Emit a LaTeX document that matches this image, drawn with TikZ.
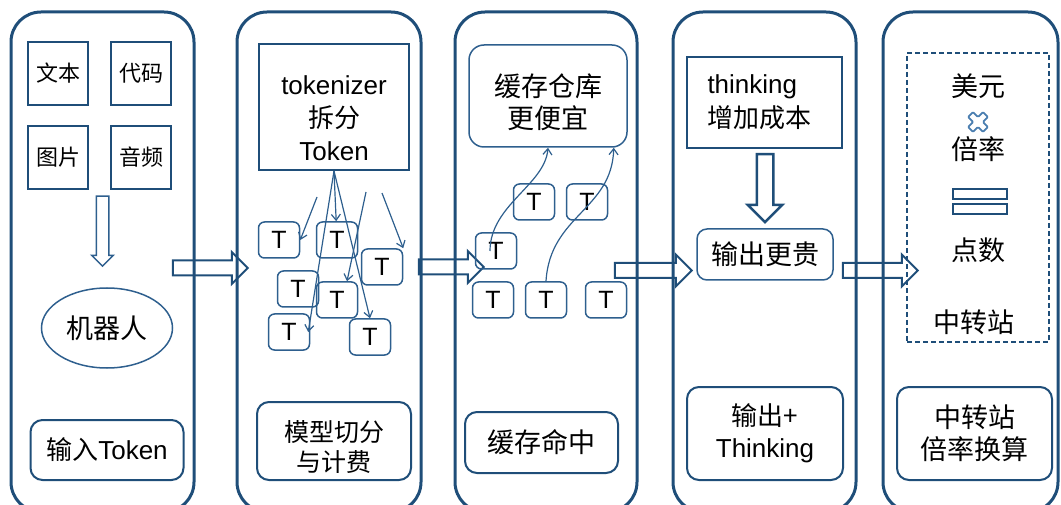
\documentclass[tikz,border=0pt]{standalone}
\usepackage{fontspec}
\setmainfont{Liberation Sans}
\newfontfamily\cjk{Noto Sans CJK SC}
\usepackage{tikz}
\usetikzlibrary{arrows.meta, positioning, shapes.geometric, shapes.arrows}

\definecolor{navy}{HTML}{1F4E79}
\definecolor{steel}{HTML}{2E5F8E}
\definecolor{crossblue}{HTML}{4A7EB0}

\begin{document}
\begin{tikzpicture}[x=1pt, y=-1pt, >={Straight Barb[length=6pt,width=9pt]},
  panel/.style={draw=navy, line width=3pt, rounded corners=30pt, minimum height=500pt},
  src/.style={draw=navy, line width=2pt, minimum width=60pt, minimum height=63pt, font=\cjk\fontsize{22}{26}\selectfont},
  tk/.style={draw=steel, line width=1.5pt, rounded corners=6pt, minimum width=41pt, minimum height=36pt, inner sep=0pt, font=\fontsize{25}{28}\selectfont},
  note/.style={draw=navy, line width=2pt, rounded corners=12pt, align=center, inner sep=0pt, font=\fontsize{26}{32}\selectfont},
  soft/.style={draw=steel, line width=1.5pt, align=center, inner sep=0pt},
  big/.style={font=\cjk\fontsize{27}{32}\selectfont},
  fat/.style={single arrow, draw=navy, line width=2pt, inner sep=0pt, text height=13pt, text depth=0pt,
    minimum width=30pt, single arrow head extend=8.5pt, single arrow head indent=0pt},
  link/.style={->, draw=steel, line width=1.2pt}]

\useasboundingbox (0,0) rectangle (1061,505);

% big arrows between the stages
\node[fat, minimum height=75pt] (go1) at (206.5,268) {};
\node[fat, minimum height=65pt] (go2) at (447.5,267) {};
\node[fat, minimum height=77pt] (go3) at (649.5,270.5) {};
\node[fat, minimum height=75pt] (go4) at (876.5,270.5) {};

% the five stages
\node[panel, minimum width=183pt] (p1) at (102.5,262) {};
\node[panel, minimum width=184pt] (p2) at (329,262) {};
\node[panel, minimum width=182pt] (p3) at (546,262) {};
\node[panel, minimum width=183pt] (p4) at (764.5,262) {};
\node[panel, minimum width=175pt] (p5) at (970.5,262) {};

% stage 1: inputs
\node[src] (txt) at (58,73.5) {文本};
\node[src, right=21pt of txt] (code) {代码};
\node[src, below=19pt of txt] (img) {图片};
\node[src, right=21pt of img] (audio) {音频};
\node[fat, draw=steel, line width=1.5pt, text height=11pt, minimum width=20pt, single arrow head extend=4.5pt, minimum height=70pt, rotate=-90] (down1) at (102.5,228) {};
\node[ellipse, soft, big, minimum width=131pt, minimum height=80pt] (robot) at (107,328) {机器人};
\node[note, minimum width=153pt, minimum height=60pt] (inp) at (107,450) {{\cjk 输入}Token};

% stage 2: tokenizer
\node[draw=navy, line width=2pt, minimum width=150pt, minimum height=126pt,
  label={[align=center, yshift=-11pt, font=\fontsize{26}{33}\selectfont]center:tokenizer\\{\cjk 拆分}\\Token}] (tkz) at (334,107) {};
\node[tk] (t1) at (279,240) {T};
\node[tk] (t2) at (337,240) {T};
\node[tk] (t3) at (382,267) {T};
\node[tk] (t4) at (298,289) {T};
\node[tk] (t5) at (337,300) {T};
\node[tk] (t6) at (289,332) {T};
\node[tk] (t7) at (370,337) {T};
\coordinate (f1) at (317,197);
\coordinate (f2) at (366,192);
\coordinate (f3) at (382,193);
\draw[link] (tkz.south) -- (t2);
\draw[link] (tkz.south) -- ([xshift=-2pt]t6.east);
\draw[link] (tkz.south) -- (t7.north);
\draw[link] (f1) -- (t1.east);
\draw[link] (f2) -- ([xshift=10pt]t5.north);
\draw[link] (f3) -- (t3.north east);
\node[note, minimum width=154pt, minimum height=78pt,
  label={[align=center, yshift=-6pt, font=\cjk\fontsize{25}{30}\selectfont]center:模型切分\\与计费}] (cut) at (334,441) {};

% stage 3: cache
\node[soft, rounded corners=15pt, minimum width=158pt, minimum height=102pt,
  label={[align=center, yshift=-6pt, big]center:缓存仓库\\更便宜}] (store) at (548,96) {};
\node[tk] (c1) at (534,202) {T};
\node[tk] (c2) at (587,202) {T};
\node[tk] (c3) at (496,251) {T};
\node[tk] (c4) at (493,300) {T};
\node[tk] (c5) at (546,300) {T};
\node[tk] (c6) at (606,300) {T};
\draw[link] ([xshift=-6pt]c3.center) .. controls (490,205) and (545,185) .. (store.south);
\draw[link] (c5.north) .. controls (550,215) and (612,210) .. ([xshift=-14pt]store.south east);
\node[note, big, minimum width=153pt, minimum height=61pt] (hit) at (541.5,442.5) {缓存命中};

% stage 4: thinking
\node[draw=navy, line width=2pt, minimum width=155pt, minimum height=91pt,
  label={[align=left, xshift=-5pt, font=\fontsize{26}{34}\selectfont]center:thinking\\{\cjk 增加成本}}] (think) at (764.5,102.5) {};
\node[fat, line width=2.5pt, text height=14pt, minimum width=32pt, single arrow head extend=9pt, minimum height=68pt, rotate=-90] (down2) at (765,184) {};
\node[soft, big, rounded corners=10pt, minimum width=136pt, minimum height=51pt] (pricey) at (765,254.5) {输出更贵};
\node[note, minimum width=156pt, minimum height=93pt] (outth) at (765,433.5) {{\cjk 输出+}\\Thinking};

% stage 5: relay rate
\node[draw=navy, line width=1.5pt, dash pattern=on 5pt off 3pt, minimum width=142pt, minimum height=289pt] (relay) at (978,197.5) {};
\node[big] (usd) at (978,86) {美元};
\draw[crossblue, line width=1.8pt, rounded corners=1pt, shift={(978,122)}, rotate=45]
  (-3.5,-10.5) -- (3.5,-10.5) -- (3.5,-3.5) -- (10.5,-3.5) -- (10.5,3.5) -- (3.5,3.5) -- (3.5,10.5)
  -- (-3.5,10.5) -- (-3.5,3.5) -- (-10.5,3.5) -- (-10.5,-3.5) -- (-3.5,-3.5) -- cycle;
\node[big] (ratio) at (978,149) {倍率};
\draw[navy, line width=1.5pt] (953,189) rectangle (1007,199) (953,204) rectangle (1007,214);
\node[big] (pts) at (978,250) {点数};
\node[big] (hub) at (974,322) {中转站};
\node[note, big, minimum width=155pt, minimum height=93pt] (rate) at (974.5,433.5) {中转站\\倍率换算};

\end{tikzpicture}
\end{document}
